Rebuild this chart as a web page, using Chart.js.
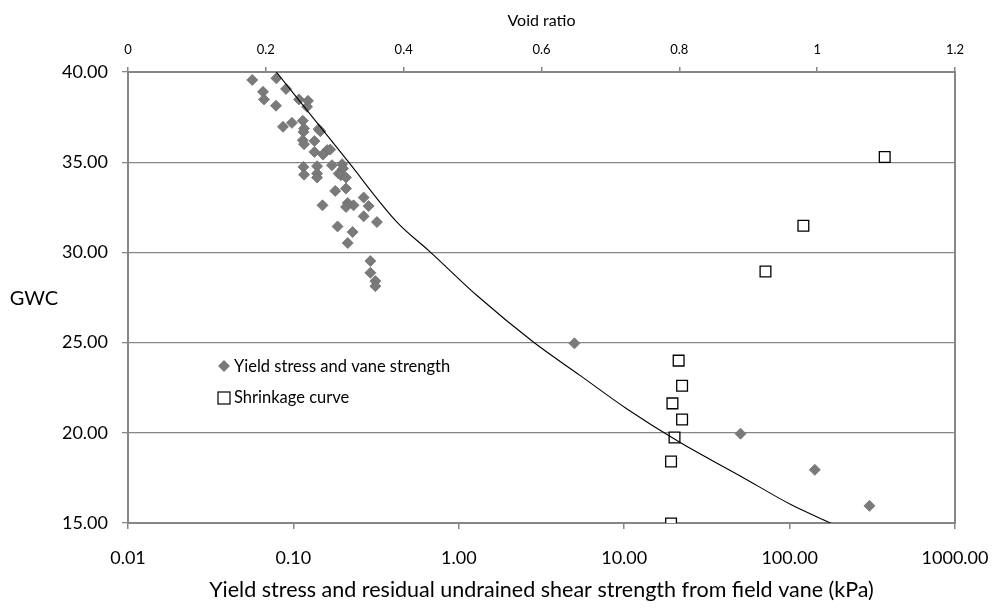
<!DOCTYPE html>
<html>
<head>
<meta charset="utf-8">
<script src="https://cdn.jsdelivr.net/npm/chart.js@4.4.1/dist/chart.umd.min.js"></script>
<style>
  html, body { margin: 0; padding: 0; background: #ffffff; }
  #wrap { width: 997px; height: 613px; }
</style>
</head>
<body>
<div id="wrap"><canvas id="c" width="997" height="613"></canvas></div>
<script>
// ---- Data ----
// Yield stress and vane strength (kPa, log axis) vs GWC
const yieldStrength = [0.0564, 0.0789, 0.0655, 0.0664, 0.0902, 0.0785, 0.108, 0.1225, 0.121, 0.0865,
  0.098, 0.114, 0.116, 0.115, 0.142, 0.1455, 0.114, 0.116, 0.134, 0.134,
  0.16, 0.167, 0.151, 0.171, 0.197, 0.1995, 0.115, 0.116, 0.139, 0.139,
  0.139, 0.1877, 0.194, 0.208, 0.208, 0.179, 0.266, 0.285, 0.213, 0.231,
  0.208, 0.15, 0.266, 0.32, 0.185, 0.228, 0.213, 0.292, 0.292, 0.313,
  0.313, 5.0, 50.5, 142, 304];
const yieldGWC = [39.56, 39.65, 38.9, 38.48, 39.06, 38.13, 38.48, 38.4, 38.07, 36.96,
  37.18, 37.3, 36.87, 36.68, 36.83, 36.72, 36.22, 36.0, 36.17, 35.57,
  35.67, 35.7, 35.43, 34.83, 34.89, 34.65, 34.74, 34.31, 34.78, 34.37,
  34.15, 34.37, 34.28, 34.15, 33.54, 33.41, 33.04, 32.57, 32.74, 32.61,
  32.52, 32.61, 32.0, 31.68, 31.44, 31.13, 30.52, 29.52, 28.87, 28.41,
  28.13, 24.96, 19.95, 17.95, 15.95];
// Shrinkage curve (void ratio, top axis) vs GWC
const shrinkVoid = [0.799, 0.804, 0.790, 0.804, 0.793, 0.788, 0.788, 0.925, 0.980, 1.098];
const shrinkGWC  = [24.0, 22.61, 21.63, 20.74, 19.74, 18.41, 14.97, 28.94, 31.48, 35.29];
// Fitted curve (kPa, log axis) vs GWC
const curveStrength = [0.0788, 0.211, 0.4227, 0.673, 1.288, 2.835, 5.43, 10.4, 21.8, 50.3, 101, 177];
const curveGWC      = [40.0, 35.11, 31.68, 30.02, 27.61, 25.02, 23.17, 21.32, 19.46, 17.61, 16.04, 15.0];

// ---- Ticks / labels ----
const bottomTickValues = [0.01, 0.1, 1, 10, 100, 1000];
const bottomTickLabels = ['0.01', '0.10', '1.00', '10.00', '100.00', '1000.00'];
const topTickValues = [0, 0.2, 0.4, 0.6, 0.8, 1.0, 1.2];
const topTickLabels = ['0', '0.2', '0.4', '0.6', '0.8', '1', '1.2'];
const yTickValues = [15, 20, 25, 30, 35, 40];
const yTickLabels = ['15.00', '20.00', '25.00', '30.00', '35.00', '40.00'];
const seriesNames = ['Yield stress and vane strength', 'Shrinkage curve'];
const xTitle = 'Yield stress and residual undrained shear strength from field vane (kPa)';
const topTitle = 'Void ratio';
const yTitle = 'GWC';

const FONT = 'Lato, "Open Sans", "DejaVu Sans", sans-serif';
const AXIS = '#868686';
const DIAMOND = '#7a7a7a';

const zip = (xs, ys) => xs.map((x, i) => ({ x: x, y: ys[i] }));

const overlayPlugin = {
  id: 'overlay',
  afterDraw(chart) {
    const ctx = chart.ctx;
    ctx.save();
    // Horizontal y-axis title
    ctx.fillStyle = '#000';
    ctx.font = '20px ' + FONT;
    ctx.textAlign = 'center';
    ctx.textBaseline = 'middle';
    ctx.fillText(yTitle, 34, 299);
    // Legend inside plot
    const lx = 224, ly1 = 366, ly2 = 398;
    ctx.fillStyle = DIAMOND;
    ctx.beginPath();
    ctx.moveTo(lx - 6, ly1); ctx.lineTo(lx, ly1 - 6); ctx.lineTo(lx + 6, ly1); ctx.lineTo(lx, ly1 + 6);
    ctx.closePath(); ctx.fill();
    ctx.fillStyle = '#fff';
    ctx.strokeStyle = '#000';
    ctx.lineWidth = 1.2;
    ctx.fillRect(lx - 6, ly2 - 6, 12, 12);
    ctx.strokeRect(lx - 6, ly2 - 6, 12, 12);
    ctx.fillStyle = '#000';
    ctx.font = '16.5px ' + FONT;
    ctx.textAlign = 'left';
    ctx.fillText(seriesNames[0], 234, ly1 + 1);
    ctx.fillText(seriesNames[1], 234, ly2);
    ctx.restore();
  }
};

new Chart(document.getElementById('c'), {
  type: 'scatter',
  data: {
    datasets: [
      {
        label: seriesNames[0],
        data: zip(yieldStrength, yieldGWC),
        xAxisID: 'x', yAxisID: 'y',
        pointStyle: 'rectRot', pointRadius: 5.5,
        backgroundColor: DIAMOND, borderColor: '#707070', borderWidth: 0.8,
        order: 2
      },
      {
        label: seriesNames[1],
        data: zip(shrinkVoid, shrinkGWC),
        xAxisID: 'x2', yAxisID: 'y',
        pointStyle: 'rect', pointRadius: 7.6,
        backgroundColor: '#ffffff', borderColor: '#000000', borderWidth: 1.3,
        order: 3
      },
      {
        label: 'curve',
        type: 'line',
        data: zip(curveStrength, curveGWC),
        xAxisID: 'x', yAxisID: 'y',
        showLine: true, pointRadius: 0, borderColor: '#000', borderWidth: 1.1,
        tension: 0.3, cubicInterpolationMode: 'monotone', fill: false,
        order: 1
      }
    ]
  },
  options: {
    responsive: false,
    animation: false,
    events: [],
    layout: { padding: 0 },
    plugins: { legend: { display: false }, tooltip: { enabled: false } },
    scales: {
      x: {
        type: 'logarithmic', position: 'bottom', min: 0.01, max: 1000,
        afterBuildTicks: s => { s.ticks = bottomTickValues.map(v => ({ value: v, major: true })); },
        afterFit: s => { s.height = 90; s.paddingLeft = 0; s.paddingRight = 0; },
        ticks: {
          autoSkip: false, maxRotation: 0, minRotation: 0, padding: 18,
          color: '#000', font: { family: FONT, size: 18 },
          callback: (v, i) => bottomTickLabels[i]
        },
        grid: { drawOnChartArea: false, drawTicks: true, tickLength: 6, color: AXIS, lineWidth: 1.5 },
        border: { color: AXIS, width: 2 },
        title: { display: true, text: xTitle, color: '#000', font: { family: FONT, size: 21.5 }, padding: { top: 0, bottom: 10 } }
      },
      x2: {
        type: 'linear', position: 'top', min: 0, max: 1.2,
        afterBuildTicks: s => { s.ticks = topTickValues.map(v => ({ value: v })); },
        afterFit: s => { s.height = 72; s.paddingLeft = 0; s.paddingRight = 0; },
        ticks: {
          autoSkip: false, maxRotation: 0, minRotation: 0, padding: 9,
          color: '#000', font: { family: FONT, size: 13 },
          callback: (v, i) => topTickLabels[i]
        },
        grid: { drawOnChartArea: false, drawTicks: true, tickLength: 5, color: AXIS, lineWidth: 1.5 },
        border: { color: AXIS, width: 2 },
        title: { display: true, text: topTitle, color: '#000', font: { family: FONT, size: 16 }, padding: { top: 11, bottom: 0 } }
      },
      y: {
        type: 'linear', position: 'left', min: 15, max: 40,
        afterBuildTicks: s => { s.ticks = yTickValues.map(v => ({ value: v })); },
        afterFit: s => { s.width = 128; },
        ticks: {
          padding: 14, color: '#000', font: { family: FONT, size: 18 },
          callback: (v, i) => yTickLabels[i]
        },
        grid: { drawOnChartArea: true, drawTicks: true, tickLength: 6, color: AXIS, lineWidth: 1.3 },
        border: { color: AXIS, width: 2 }
      },
      y2: {
        type: 'linear', position: 'right', min: 15, max: 40, display: true,
        afterFit: s => { s.width = 42; },
        ticks: { display: false },
        grid: { display: false, drawTicks: false },
        border: { display: true, color: AXIS, width: 2 }
      }
    }
  },
  plugins: [overlayPlugin]
});
</script>
</body>
</html>
